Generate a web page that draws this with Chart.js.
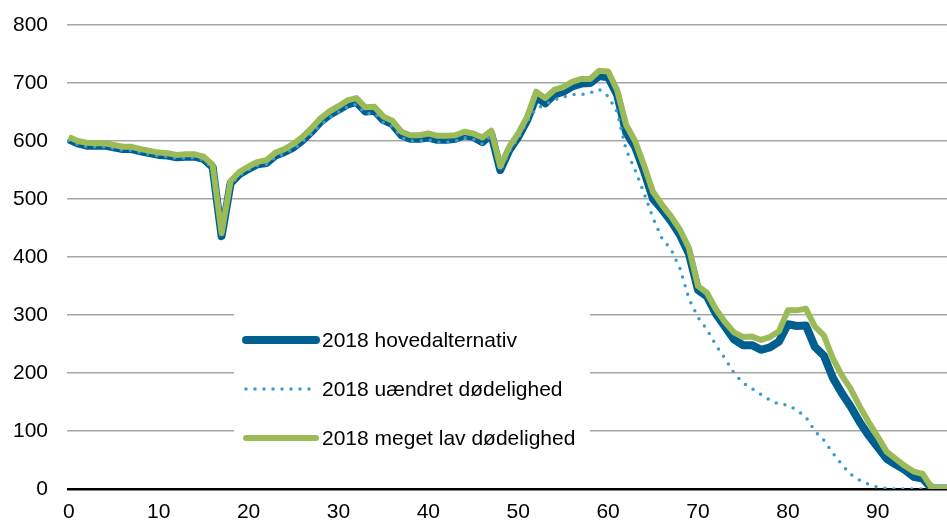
<!DOCTYPE html>
<html>
<head>
<meta charset="utf-8">
<script src="https://cdn.jsdelivr.net/npm/chart.js@4/dist/chart.umd.min.js"></script>
<style>
  html, body { margin: 0; padding: 0; background: #fff; }
  #wrap { width: 947px; height: 523px; }
</style>
</head>
<body>
<div id="wrap"><canvas id="myChart" width="947" height="523"></canvas></div>
<script>
// Alder 0..100
const alder = Array.from({ length: 101 }, (_, i) => i);

const hovedalternativ = [
  603, 596, 592, 592, 592, 589, 586, 586, 582, 579,
  576, 575, 572, 573, 573, 569, 555, 436, 527, 543,
  552, 560, 562, 575, 581, 589, 601, 616, 633, 645,
  654, 663, 667, 651, 652, 636, 629, 610, 604, 604,
  606, 602, 602, 604, 610, 607, 598, 612, 550, 584,
  607, 636, 676, 665, 680, 685, 694, 699, 700, 712,
  710, 680, 615, 590, 548, 500, 482, 462, 438, 405,
  343, 332, 302, 280, 258, 248, 248, 240, 244, 254,
  284, 281, 282, 245, 230, 192, 165, 142, 115, 92,
  72, 52, 42, 33, 21, 18, 1, 1, 1, 1,
  1
];

const uaendret = [
  601, 594, 590, 590, 590, 587, 584, 584, 580, 577,
  574, 573, 570, 571, 571, 567, 553, 434, 525, 541,
  550, 558, 560, 572, 578, 586, 598, 612, 628, 640,
  650, 659, 663, 647, 648, 632, 625, 606, 600, 600,
  602, 598, 598, 600, 606, 603, 595, 609, 548, 582,
  605, 634, 656, 663, 671, 676, 680, 680, 683, 689,
  677, 650, 585, 550, 510, 467, 432, 413, 380, 328,
  296, 275, 248, 225, 200, 183, 173, 163, 153, 146,
  145, 136, 124, 100, 84, 62, 42, 25, 15, 8,
  3, 1, 0, 0, 0, 0, 0, 0, 0, 0,
  0
];

const megetLav = [
  607, 600, 597, 596, 596, 593, 590, 590, 586, 583,
  580, 579, 576, 577, 577, 573, 559, 441, 531, 547,
  556, 564, 567, 580, 586, 595, 607, 622, 639, 651,
  660, 670, 674, 658, 659, 642, 635, 616, 610, 610,
  613, 609, 609, 610, 616, 613, 606, 618, 556, 590,
  613, 642, 685, 674, 688, 693, 702, 707, 707, 721,
  720, 688, 628, 600, 558, 512, 490, 470, 447, 415,
  350, 338, 310, 288, 270, 262, 263, 257, 262, 272,
  308, 308, 311, 280, 265, 225, 196, 172, 142, 115,
  90, 64, 52, 40, 30, 26, 2, 2, 2, 2,
  2
];

const yTicks = [0, 100, 200, 300, 400, 500, 600, 700, 800];
const xTicks = [0, 10, 20, 30, 40, 50, 60, 70, 80, 90];

const skrift = '"Liberation Sans", Arial, sans-serif';

function punkter(arr) {
  return arr.map((v, i) => ({ x: alder[i], y: v }));
}

// Legende tegnet som hvid boks inde i plotområdet
const legendeBoks = {
  id: 'legendeBoks',
  beforeDatasetsDraw(chart) {
    const c = chart.ctx;
    c.save();
    c.fillStyle = '#ffffff';
    c.fillRect(234, 308, 356, 160);
    const rows = [340, 389, 438];
    chart.data.datasets.forEach((ds, i) => {
      const y = rows[i];
      c.beginPath();
      c.strokeStyle = ds.borderColor;
      c.lineWidth = ds.legendWidth;
      c.lineCap = 'round';
      c.setLineDash(ds.borderDash || []);
      c.moveTo(246, y);
      c.lineTo(316, y);
      c.stroke();
      c.setLineDash([]);
      c.fillStyle = '#000';
      c.font = '21px ' + skrift;
      c.textBaseline = 'middle';
      c.fillText(ds.label, 322, y + 1);
    });
    c.restore();
  }
};

const ctx = document.getElementById('myChart').getContext('2d');
const myChart = new Chart(ctx, {
  type: 'line',
  data: {
    datasets: [
      {
        label: '2018 hovedalternativ',
        data: punkter(hovedalternativ),
        borderColor: '#005f8f',
        borderWidth: 8,
        legendWidth: 8,
        order: 2
      },
      {
        label: '2018 uændret dødelighed',
        data: punkter(uaendret),
        borderColor: '#3b9ad2',
        borderWidth: 3.5,
        legendWidth: 3.5,
        borderDash: [0, 9],
        borderCapStyle: 'round',
        order: 1
      },
      {
        label: '2018 meget lav dødelighed',
        data: punkter(megetLav),
        borderColor: '#9bbb59',
        borderWidth: 6,
        legendWidth: 6,
        order: 0
      }
    ]
  },
  options: {
    responsive: false,
    animation: false,
    devicePixelRatio: 1,
    elements: {
      point: { radius: 0 },
      line: { tension: 0, borderJoinStyle: 'round' }
    },
    layout: { padding: { top: 25, right: 0, bottom: 0, left: 0 } },
    plugins: {
      legend: { display: false },
      tooltip: { enabled: false }
    },
    scales: {
      x: {
        type: 'linear',
        min: -0.2,
        max: 97.7,
        afterBuildTicks: (axis) => {
          axis.ticks = xTicks.map(v => ({ value: v }));
        },
        afterFit: (axis) => {
          axis.height = 34;
          axis.paddingLeft = 0;
          axis.paddingRight = 0;
        },
        grid: { display: false, drawTicks: false },
        border: { display: false },
        ticks: {
          color: '#000',
          padding: 11,
          maxRotation: 0,
          autoSkip: false,
          font: { family: skrift, size: 21 }
        }
      },
      y: {
        min: 0,
        max: 800,
        afterBuildTicks: (axis) => {
          axis.ticks = yTicks.map(v => ({ value: v }));
        },
        afterFit: (axis) => {
          axis.width = 67;
          axis.paddingTop = 0;
          axis.paddingBottom = 0;
        },
        grid: {
          drawTicks: false,
          color: (c) => c.tick && c.tick.value === 0 ? '#000000' : '#a6a6a6',
          lineWidth: (c) => c.tick && c.tick.value === 0 ? 2.5 : 1.5
        },
        border: { display: false },
        ticks: {
          color: '#000',
          padding: 19,
          font: { family: skrift, size: 21 }
        }
      }
    }
  },
  plugins: [legendeBoks]
});
</script>
</body>
</html>
